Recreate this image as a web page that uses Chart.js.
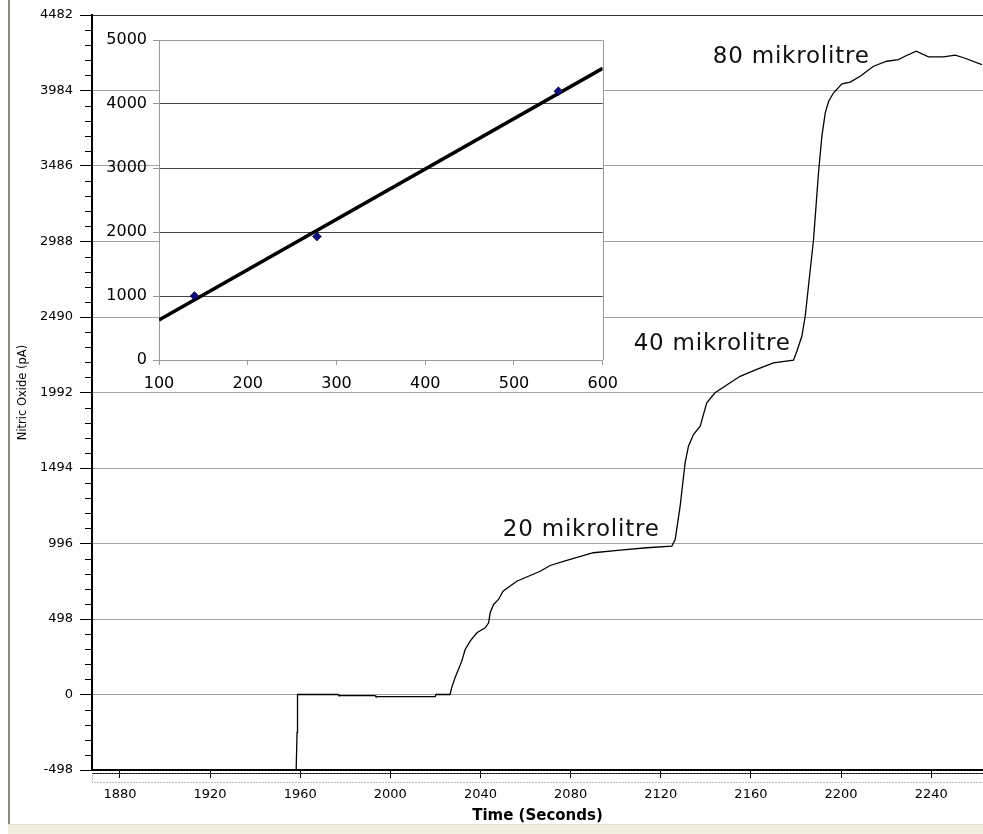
<!DOCTYPE html>
<html>
<head>
<meta charset="utf-8">
<script src="https://cdn.jsdelivr.net/npm/chart.js@4.4.1/dist/chart.umd.min.js"></script>
<style>
    html, body { margin: 0; padding: 0; background: #fff; }
    #wrap { position: relative; width: 983px; height: 834px; overflow: hidden; }
    #mainChart { position: absolute; left: 0; top: 0; }
    #insetChart { position: absolute; left: 100px; top: 22px; }
    #frameLeft { position: absolute; left: 8px; top: 0; width: 2px; height: 824px; background: #8d8d86; }
    #statusBar { position: absolute; left: 8px; right: 0; top: 824px; bottom: 0; background: #f1eee1; border-top: 1px solid #e2dece; }
</style>
</head>
<body>
<div id="wrap">
    <canvas id="mainChart" width="983" height="834"></canvas>
    <canvas id="insetChart" width="527" height="380"></canvas>
    <div id="frameLeft"></div>
    <div id="statusBar"></div>
</div>
<script>
// main recording: time (s) and nitric oxide current (pA)
const times = [1958.2, 1958.6, 1958.8, 1976.8, 1977.2, 1993.2, 1993.6, 2019.9, 2020.3, 2026.5,
    2027.2, 2028.7, 2030.2, 2031.7, 2033.2, 2035.4, 2038.4, 2042.1, 2043.6, 2044.3,
    2045.8, 2048, 2050, 2056.1, 2066.5, 2070.9, 2078.3, 2090.1, 2102, 2113.8,
    2124.9, 2126.4, 2128.6, 2130.8, 2132.3, 2134.5, 2137.5, 2140.4, 2144.1, 2150.8,
    2155.2, 2162.6, 2170, 2178.9, 2180.4, 2182.6, 2184.1, 2187.8, 2190, 2191.5,
    2193, 2194.5, 2196.7, 2200.4, 2204.1, 2208.5, 2214.4, 2220.3, 2225.5, 2228.4,
    2233.4, 2238.8, 2245.5, 2250.7, 2254.4, 2262.5];
const nitricOxide = [-498, -250, 0, 0, -7, -7, -14, -14, 0, 0,
    44, 110, 165, 220, 297, 352, 407, 440, 473, 539,
    594, 627, 681, 747, 813, 851, 884, 935, 952, 968,
    978, 1022, 1242, 1528, 1638, 1715, 1770, 1924, 1990, 2056,
    2099, 2144, 2188, 2205, 2264, 2363, 2495, 3001, 3441, 3683,
    3837, 3913, 3969, 4028, 4039, 4078, 4144, 4177, 4188, 4210,
    4243, 4206, 4206, 4217, 4200, 4155];

const timeTicks = [1880, 1920, 1960, 2000, 2040, 2080, 2120, 2160, 2200, 2240];
const currentTicks = [-498, 0, 498, 996, 1494, 1992, 2490, 2988, 3486, 3984, 4482];

// dose labels, anchored in data units (time, pA)
const doseLabels = ['20 mikrolitre', '40 mikrolitre', '80 mikrolitre'];
const doseTimes = [2084.7, 2142.8, 2177.9];
const doseValues = [1088, 2309, 4208];

// inset calibration
const calX = [140, 278, 550];
const calY = [1000, 1930, 4200];
const trendX = [100, 600];
const trendY = [625, 4557];
const insetXTicks = [100, 200, 300, 400, 500, 600];
const insetYTicks = [0, 1000, 2000, 3000, 4000, 5000];

const plainLabel = value => String(value);

const minorTicks = {
    id: 'minorTicks',
    afterDraw(chart) {
        const { ctx, chartArea, scales: { y } } = chart;
        ctx.save();
        ctx.strokeStyle = '#000';
        ctx.lineWidth = 1;
        for (let i = 0; i < currentTicks.length - 1; i++) {
            const step = (currentTicks[i + 1] - currentTicks[i]) / 5;
            for (let k = 1; k < 5; k++) {
                const py = Math.round(y.getPixelForValue(currentTicks[i] + step * k)) + 0.5;
                ctx.beginPath();
                ctx.moveTo(chartArea.left - 7, py);
                ctx.lineTo(chartArea.left, py);
                ctx.stroke();
            }
        }
        // second axis line and dotted strip under the time axis
        const b = chartArea.bottom;
        ctx.beginPath();
        ctx.moveTo(chartArea.left, b + 3.5);
        ctx.lineTo(chartArea.right, b + 3.5);
        ctx.stroke();
        ctx.strokeStyle = '#777';
        ctx.setLineDash([1, 2]);
        ctx.strokeRect(chartArea.left + 0.5, b + 3.5, chartArea.right - chartArea.left, 9);
        ctx.restore();
    }
};

const doseText = {
    id: 'doseText',
    afterDatasetsDraw(chart) {
        const { ctx, scales: { x, y } } = chart;
        ctx.save();
        ctx.font = '23px "DejaVu Sans"';
        ctx.fillStyle = '#111';
        ctx.textAlign = 'center';
        ctx.textBaseline = 'middle';
        if ('letterSpacing' in ctx) ctx.letterSpacing = '0.8px';
        doseLabels.forEach((label, i) => {
            ctx.fillText(label, x.getPixelForValue(doseTimes[i]), y.getPixelForValue(doseValues[i]));
        });
        ctx.restore();
    }
};

new Chart(document.getElementById('mainChart'), {
    type: 'line',
    data: {
        datasets: [{
            data: times.map((t, i) => ({ x: t, y: nitricOxide[i] })),
            borderColor: '#000',
            borderWidth: 1.3,
            pointRadius: 0,
            tension: 0,
            fill: false
        }]
    },
    options: {
        responsive: false,
        animation: false,
        layout: { padding: { top: 15, right: 0, left: 0, bottom: 0 } },
        plugins: { legend: { display: false }, tooltip: { enabled: false } },
        scales: {
            x: {
                type: 'linear',
                min: 1867.6,
                max: 2263,
                afterBuildTicks: s => { s.ticks = timeTicks.map(v => ({ value: v })); },
                afterFit: s => { s.height = 64; },
                grid: { drawOnChartArea: false, tickLength: 8, tickColor: '#000' },
                border: { color: '#000', width: 2 },
                ticks: { color: '#000', font: { family: 'DejaVu Sans', size: 13 }, padding: 9, maxRotation: 0, callback: plainLabel },
                title: {
                    display: true, text: 'Time (Seconds)', color: '#000',
                    font: { family: 'DejaVu Sans', size: 15, weight: 'bold' },
                    padding: { top: 0, bottom: 9 }
                }
            },
            y: {
                min: -498,
                max: 4482,
                afterBuildTicks: s => { s.ticks = currentTicks.map(v => ({ value: v })); },
                afterFit: s => { s.width = 92; },
                grid: {
                    color: c => (c.tick && c.tick.value === 4482) ? '#333' : '#a3a3a3',
                    tickColor: '#000',
                    tickLength: 12
                },
                border: { color: '#000', width: 2 },
                ticks: { color: '#000', font: { family: 'DejaVu Sans', size: 13 }, padding: 7, callback: plainLabel },
                title: {
                    display: true, text: 'Nitric Oxide (pA)', color: '#000',
                    font: { family: 'DejaVu Sans', size: 11.5 },
                    padding: { top: 16, bottom: 0 }
                }
            }
        }
    },
    plugins: [minorTicks, doseText]
});

const insetFrame = {
    id: 'insetFrame',
    beforeDraw(chart) {
        const { ctx, chartArea: a } = chart;
        ctx.save();
        ctx.fillStyle = '#fff';
        ctx.fillRect(a.left, a.top, a.right - a.left, a.bottom - a.top);
        ctx.restore();
    },
    afterDraw(chart) {
        const { ctx, chartArea: a } = chart;
        ctx.save();
        ctx.strokeStyle = '#999';
        ctx.lineWidth = 1;
        ctx.beginPath();
        ctx.moveTo(Math.round(a.right) + 0.5, a.top);
        ctx.lineTo(Math.round(a.right) + 0.5, a.bottom);
        ctx.stroke();
        ctx.restore();
    }
};

new Chart(document.getElementById('insetChart'), {
    type: 'scatter',
    data: {
        datasets: [{
            data: calX.map((x, i) => ({ x, y: calY[i] })),
            pointStyle: 'rectRot',
            pointRadius: 4.5,
            backgroundColor: '#0b0b7a',
            borderColor: '#000',
            borderWidth: 0.5
        }, {
            data: trendX.map((x, i) => ({ x, y: trendY[i] })),
            showLine: true,
            borderColor: '#000',
            borderWidth: 3.5,
            pointRadius: 0,
            tension: 0
        }]
    },
    options: {
        responsive: false,
        animation: false,
        layout: { padding: { top: 18, right: 17, left: 0, bottom: 0 } },
        plugins: { legend: { display: false }, tooltip: { enabled: false } },
        scales: {
            x: {
                type: 'linear',
                min: 100,
                max: 600,
                afterBuildTicks: s => { s.ticks = insetXTicks.map(v => ({ value: v })); },
                afterFit: s => { s.height = 42; },
                grid: { drawOnChartArea: false, tickLength: 5, tickColor: '#999' },
                border: { color: '#999' },
                ticks: { color: '#000', font: { family: 'DejaVu Sans', size: 16 }, padding: 9, maxRotation: 0, callback: plainLabel }
            },
            y: {
                min: 0,
                max: 5000,
                afterBuildTicks: s => { s.ticks = insetYTicks.map(v => ({ value: v })); },
                afterFit: s => { s.width = 59; },
                grid: {
                    color: c => (c.tick && (c.tick.value === 0 || c.tick.value === 5000)) ? '#999' : '#444',
                    tickLength: 6,
                    tickColor: '#999'
                },
                border: { color: '#999' },
                ticks: { color: '#000', font: { family: 'DejaVu Sans', size: 16 }, padding: 6, callback: plainLabel }
            }
        }
    },
    plugins: [insetFrame]
});
</script>
</body>
</html>
